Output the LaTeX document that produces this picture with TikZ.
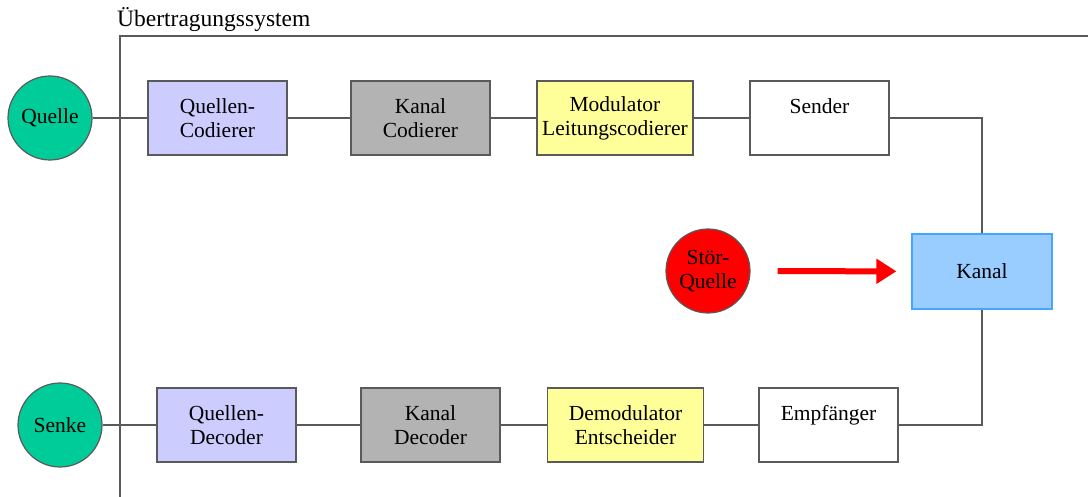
\documentclass[tikz,border=0pt]{standalone}
\usepackage{fontspec}
\setmainfont{Liberation Serif}
\usepackage{tikz}
\usetikzlibrary{arrows.meta, positioning}
\definecolor{quellgruen}{RGB}{0, 204, 153}
\definecolor{codierblau}{RGB}{204, 204, 255}
\definecolor{kanalgrau}{RGB}{179, 179, 179}
\definecolor{modgelb}{RGB}{255, 255, 153}
\definecolor{kanalblau}{RGB}{153, 204, 255}
\definecolor{kanalrand}{RGB}{70, 165, 255}
\definecolor{linie}{RGB}{90, 90, 90}

\begin{document}
\begin{tikzpicture}[
    x=1pt, y=-1pt,
    every node/.style={font=\fontsize{21.5}{24}\selectfont, align=center},
    block/.style={rectangle, draw=linie, line width=1.2pt, minimum width=139pt, minimum height=74pt, inner sep=0pt},
    wideblock/.style={block, minimum width=156pt},
    endpoint/.style={circle, draw=linie, line width=1.2pt, fill=quellgruen, minimum size=84pt, inner sep=0pt},
    wire/.style={draw=linie, line width=1.2pt},
    stoerpfeil/.style={-{Triangle[length=20pt 0 0, width=24pt 0 0]}, line width=6pt, red, shorten <=27pt, shorten >=15pt}
]
\useasboundingbox (0,0) rectangle (1088,497);

% System frame
\draw[wire] (120,497) -- (120,36) -- (1088,36);
\node[anchor=base west, inner sep=0pt, font=\fontsize{23.5}{26}\selectfont] (titel) at (117,27) {Übertragungssystem};

% Transmit path
\node[endpoint] (quelle) at (50,118) {Quelle};
\node[block, fill=codierblau] (qcod) at (217.5,118) {Quellen-\\Codierer};
\node[block, fill=kanalgrau] (kcod) at (420.5,118) {Kanal\\Codierer};
\node[wideblock, fill=modgelb] (mod) at (615,118) {Modulator\\Leitungscodierer};
\node[block, fill=white] (sender) at (819.5,118) {Sender\\\mbox{}};

% Channel and disturbance
\node[block, draw=kanalrand, fill=kanalblau, minimum width=140pt, minimum height=75pt] (kanal) at (982,271.5) {Kanal};
\node[endpoint, fill=red] (stoer) at (708,271) {Stör-\\Quelle};

% Receive path
\node[endpoint] (senke) at (60,425) {Senke};
\node[block, fill=codierblau] (qdec) at (226.5,425) {Quellen-\\Decoder};
\node[block, fill=kanalgrau] (kdec) at (430.5,425) {Kanal\\Decoder};
\node[wideblock, fill=modgelb] (demod) at (625.5,425) {Demodulator\\Entscheider};
\node[block, fill=white] (empf) at (828.5,425) {Empfänger\\\mbox{}};

% Connections
\draw[wire] (quelle) -- (qcod);
\draw[wire] (qcod) -- (kcod);
\draw[wire] (kcod) -- (mod);
\draw[wire] (mod) -- (sender);
\draw[wire] (sender.east) -| (kanal.north);
\draw[wire] (kanal.south) |- (empf.east);
\draw[wire] (empf) -- (demod);
\draw[wire] (demod) -- (kdec);
\draw[wire] (kdec) -- (qdec);
\draw[wire] (qdec) -- (senke);
\draw[stoerpfeil] (stoer) -- (kanal);
\end{tikzpicture}
\end{document}
